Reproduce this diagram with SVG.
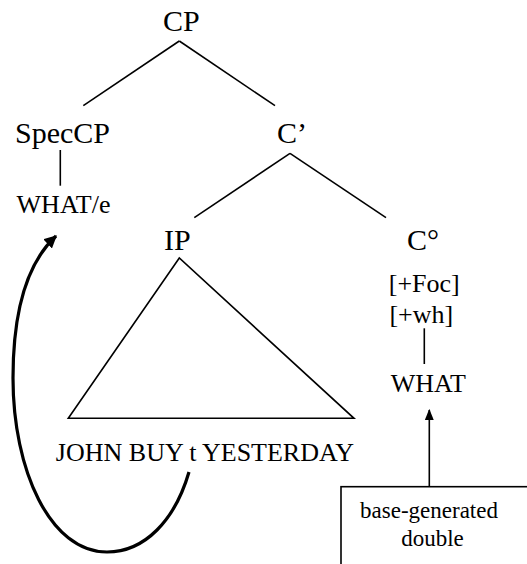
<svg xmlns="http://www.w3.org/2000/svg" width="527" height="564" viewBox="0 0 527 564">
<defs>
<style>
text{font-family:"Liberation Serif","Times New Roman",serif;fill:#000}
.big{font-size:30px}
.sm{font-size:26px;text-anchor:middle}
.box{font-size:23px;text-anchor:middle}
.ln{stroke:#000;stroke-width:1.6;fill:none}
</style>
<marker id="ah" viewBox="0 0 10 10" refX="9" refY="5" markerWidth="4" markerHeight="4" orient="auto" markerUnits="strokeWidth">
<path d="M0,0 L10,5 L0,10 z" fill="#000"/>
</marker>
<marker id="ah2" viewBox="0 0 10 10" refX="9" refY="5" markerWidth="7" markerHeight="7" orient="auto" markerUnits="strokeWidth">
<path d="M0,1 L10,5 L0,9 z" fill="#000"/>
</marker>
</defs>
<rect width="527" height="564" fill="#fff"/>
<g id="connectors">
<line class="ln" x1="179.3" y1="41" x2="83.3" y2="105.7"/>
<line class="ln" x1="179.3" y1="41" x2="275" y2="105.7"/>
<line class="ln" x1="60.3" y1="150" x2="60.3" y2="185.7"/>
<line class="ln" x1="290" y1="153.3" x2="194.3" y2="217.7"/>
<line class="ln" x1="290" y1="153.3" x2="386" y2="217.7"/>
<line class="ln" x1="424.3" y1="328.3" x2="424.3" y2="364"/>
<line class="ln" x1="429.3" y1="486.7" x2="429.3" y2="410" marker-end="url(#ah2)"/>
<path d="M189,472 C175,520 145,552 107,552 C50,552 13,470 13,378 C13,310 28,262 56,236" fill="none" stroke="#000" stroke-width="3.2" marker-end="url(#ah)"/>
</g>
<g id="CP"><text class="big" x="163" y="31">CP</text></g>
<g id="SpecCP"><text class="big" x="15" y="143">SpecCP</text></g>
<g id="Cbar"><text class="big" x="277" y="143">C’</text></g>
<g id="WHATe"><text class="sm" x="63.5" y="213.3">WHAT/e</text></g>
<g id="IP"><text class="big" x="164" y="250">IP</text></g>
<g id="C0"><text class="big" x="407" y="250">C°</text></g>
<g id="IP-triangle"><polygon class="ln" points="179.3,258 68.3,418.3 354,418.3"/></g>
<g id="IP-content"><text class="sm" x="205" y="461">JOHN BUY t YESTERDAY</text></g>
<g id="features">
<text class="sm" x="424.3" y="291.7">[+Foc]</text>
<text class="sm" x="421.3" y="322.7">[+wh]</text>
</g>
<g id="WHAT"><text class="sm" x="428.3" y="391.7">WHAT</text></g>
<g id="double-box">
<rect class="ln" x="341" y="486.7" width="220" height="100"/>
<text class="box" x="429" y="518.3">base-generated</text>
<text class="box" x="432.5" y="546">double</text>
</g>
</svg>
